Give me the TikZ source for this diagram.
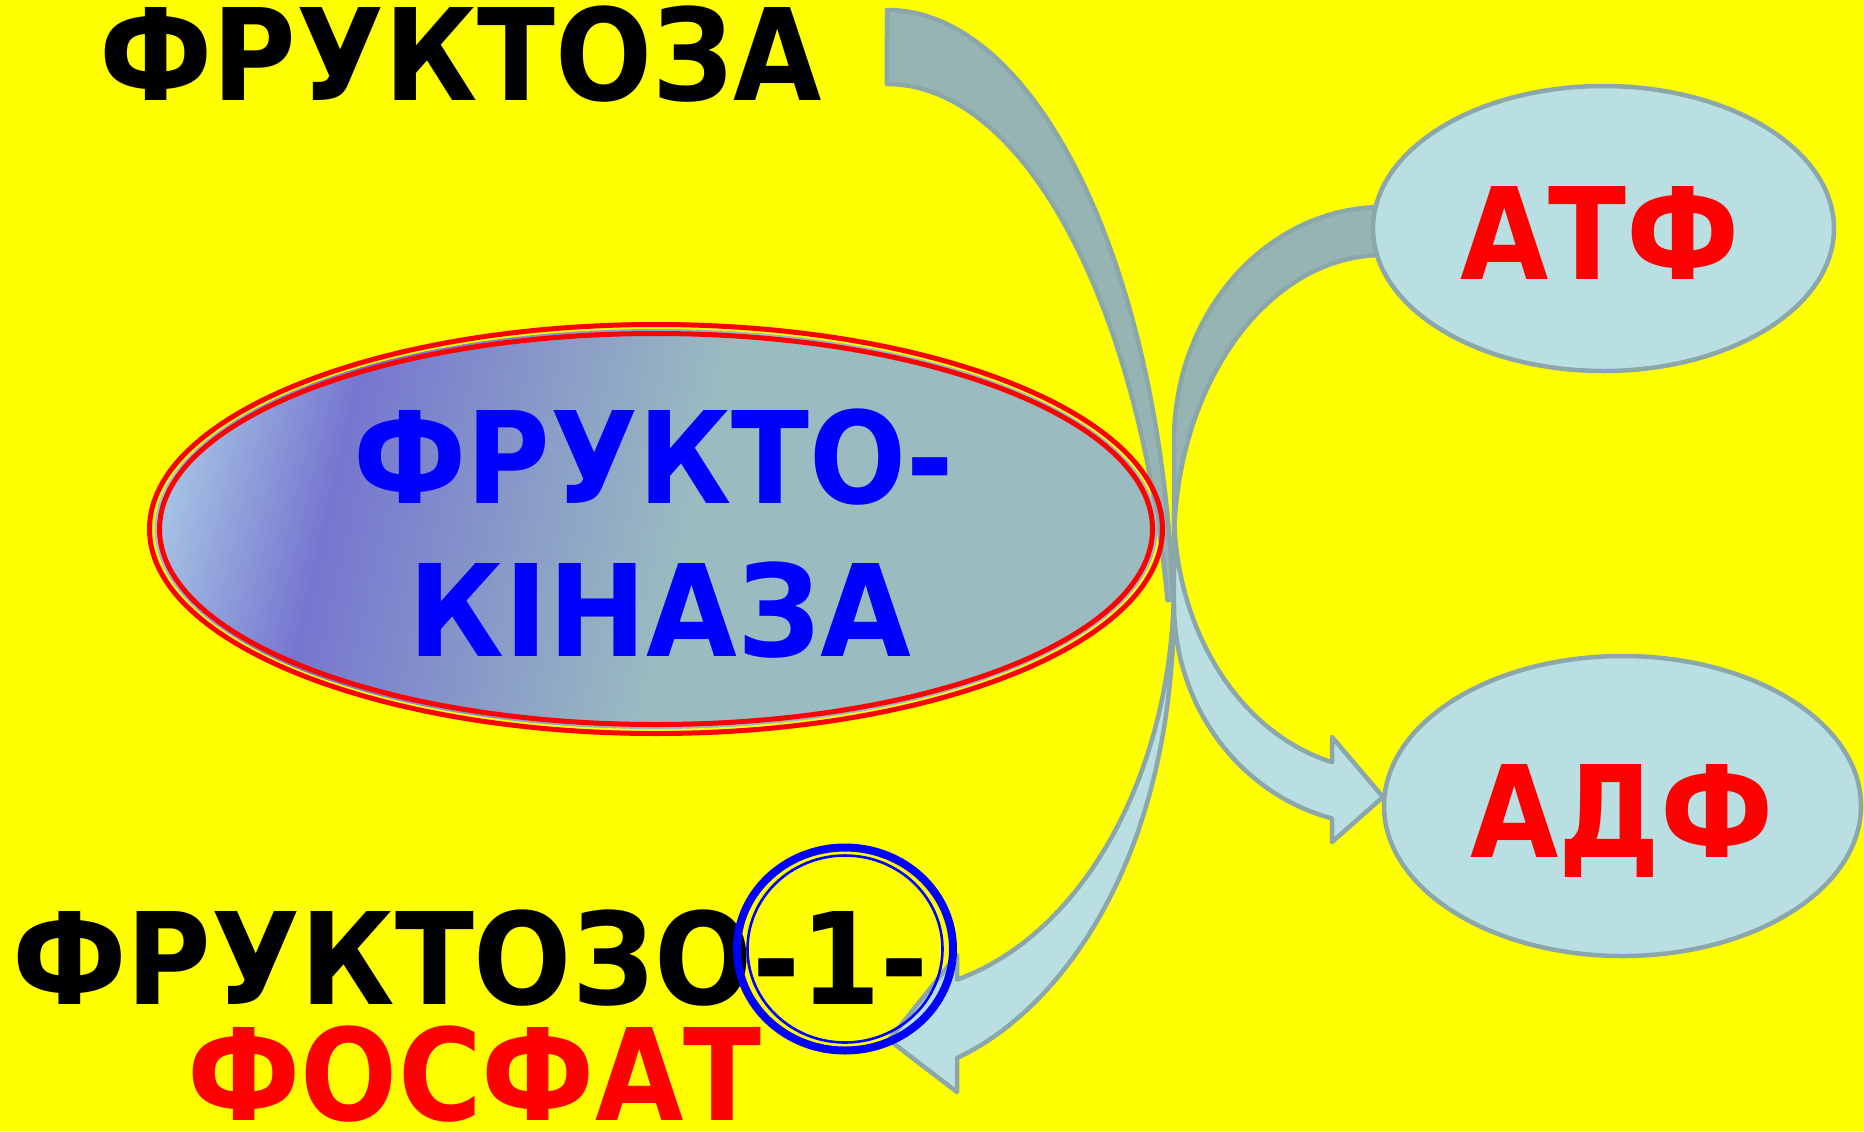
\documentclass[tikz,border=0pt]{standalone}
\usepackage{fontspec}
\usetikzlibrary{shapes.geometric}
\newfontfamily\lbl{DejaVu Sans}[UprightFont={* Bold}, FakeStretch=0.895]
\newfontfamily\lblmid{DejaVu Sans}[UprightFont={* Bold}, FakeStretch=0.906]
\newfontfamily\lblwide{DejaVu Sans}[UprightFont={* Bold}, FakeStretch=0.92]

\definecolor{bg}{HTML}{FFFF00}
\definecolor{backfill}{HTML}{97B4B5}
\definecolor{frontfill}{HTML}{B9DFE2}
\definecolor{edgegray}{HTML}{8CA7AA}
\definecolor{kinL}{HTML}{A5C2E3}
\definecolor{kinD}{HTML}{7676D0}
\definecolor{kinT}{HTML}{9ABCC0}

% left-to-right fill of the enzyme ellipse (25bp..75bp span the filled box)
\pgfdeclarehorizontalshading{kinase}{100bp}{color(0bp)=(kinL); color(27.7bp)=(kinL); color(35.1bp)=(kinD); color(51.6bp)=(kinT); color(100bp)=(kinT)}

\tikzset{
  lbltext/.style={inner sep=0pt, anchor=base, font=\lbl\fontsize{63.8}{70}\selectfont},
  lblmidtext/.style={inner sep=0pt, anchor=base, font=\lblmid\fontsize{63.8}{70}\selectfont},
  lblwidetext/.style={inner sep=0pt, anchor=base, font=\lblwide\fontsize{63.8}{70}\selectfont},
  back band/.style={fill=backfill, draw=edgegray, line width=2.25pt, line join=round},
  front band/.style={fill=frontfill, draw=edgegray, line width=2.25pt, line join=round},
  pill/.style={ellipse, draw=edgegray, fill=frontfill, line width=2.25pt, inner sep=0pt},
  redring/.style={draw=red, line width=2.5pt},
  bluering/.style={ellipse, draw=blue, inner sep=0pt},
}

\begin{document}
\begin{tikzpicture}[x=0.5pt, y=-0.5pt]
\useasboundingbox (0,0) rectangle (1864,1131);
\fill[bg] (0,0) rectangle (1864,1131);

% back (darker) parts of the two curved arrows
\draw[back band] (887,10) arc[start angle=-90, end angle=-4.65, x radius=287, y radius=642]
  -- (1167.5,600) arc[start angle=-12.18, end angle=-90, x radius=287, y radius=654] -- cycle;
\draw[back band] (1383,207) arc[start angle=-90, end angle=-180, x radius=209, y radius=234]
  -- (1174,545) arc[start angle=180, end angle=270, x radius=209, y radius=290] -- cycle;

% front parts with arrow heads
\draw[front band] (1174,582) arc[start angle=0, end angle=75.88, x radius=287, y radius=410]
  -- (957,955) -- (889,1040) -- (957,1092) -- (957,1058)
  .. controls (1060,1010) and (1174,860) .. (1174,600) -- cycle;
\draw[front band] (1174,510) arc[start angle=180, end angle=104.12, x radius=209, y radius=260]
  -- (1332,737) -- (1383,797) -- (1332,842) -- (1332,818.4)
  arc[start angle=104.12, end angle=180, x radius=209, y radius=221] -- cycle;

% cofactor ellipses
\node[pill, minimum width=230.5pt, minimum height=142.5pt] (atp) at (1603.5,228.5) {};
\node[pill, minimum width=238.5pt, minimum height=150pt] (adp) at (1622.5,806) {};

% enzyme ellipse: slanted colour gradient clipped to the ellipse, double red border
\node[ellipse, inner sep=0pt, minimum width=501.5pt, minimum height=200pt] (kinase) at (656,529) {};
\begin{scope}
  \clip (kinase.center) ellipse[x radius=501.5, y radius=200];
  \begin{scope}[transform canvas={cm={1,0,0.231,1,(61.1pt,0pt)}}]
    \shade[shading=kinase] (100,300) rectangle (1210,760);
  \end{scope}
\end{scope}
\draw[redring] (kinase.center) ellipse[x radius=506.5, y radius=204.5];
\draw[redring] (kinase.center) ellipse[x radius=496.5, y radius=195.5];

% labels
\node[lbltext] (fructose) at (461,100) {ФРУКТОЗА};
\node[lbltext, text=blue] (kinA) at (654,503) {ФРУКТО-};
\node[lblwidetext, text=blue] (kinB) at (660,656) {КІНАЗА};
\node[lbltext, text=red] (atptext) at (1600,279) {АТФ};
\node[lbltext, text=red] (adptext) at (1622,857) {АДФ};
\node[lblmidtext] (fructose1p) at (470.5,1004) {ФРУКТОЗО-1-};
\node[lbltext, text=red] (phosphate) at (474.5,1120) {ФОСФАТ};

% double circle round the position number
\node[bluering, line width=4pt, minimum width=108pt, minimum height=101.5pt] (posouter) at (845,949) {};
\node[bluering, line width=1.3pt, minimum width=97.5pt, minimum height=93.5pt] (posinner) at (posouter.center) {};
\end{tikzpicture}
\end{document}
